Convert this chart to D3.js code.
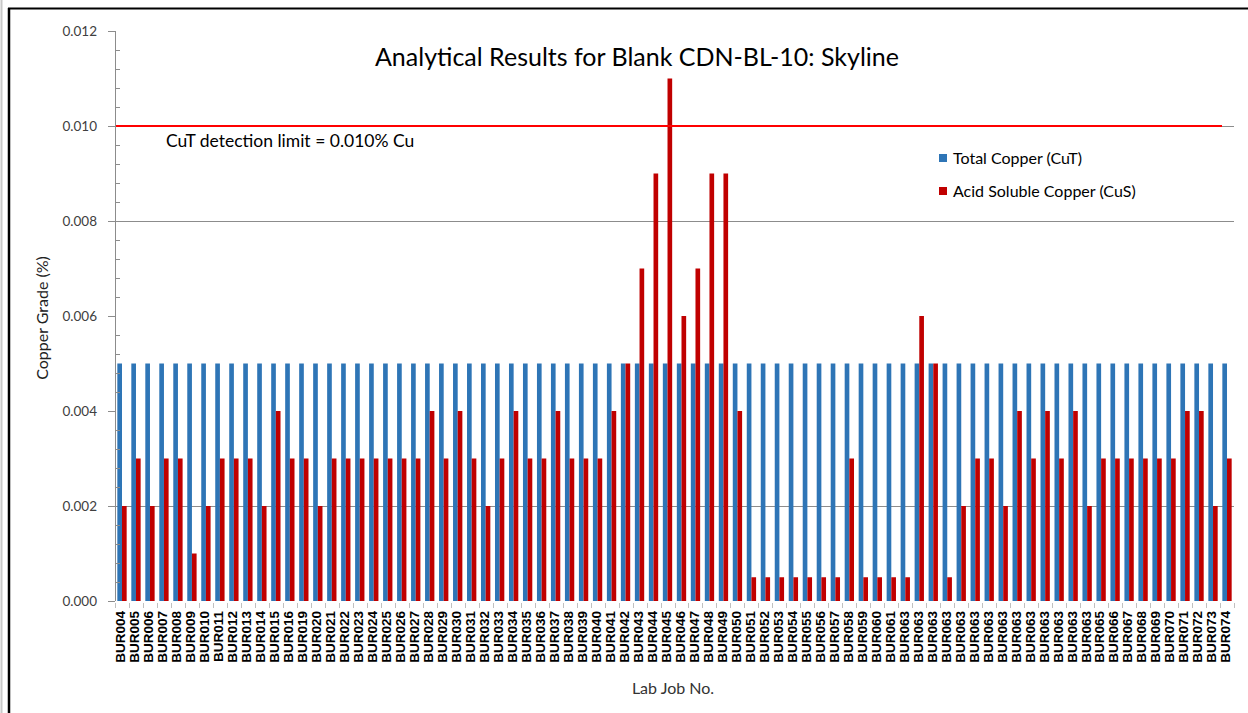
<!DOCTYPE html>
<html><head><meta charset="utf-8">
<script src="https://cdn.jsdelivr.net/npm/d3@7"></script>
<style>body{margin:0;background:#fff}svg{display:block}</style>
</head><body><svg id="c" width="1248" height="713"></svg>
<script>
const categories = ["BUR004","BUR005","BUR006","BUR007","BUR008","BUR009","BUR010","BUR011","BUR012","BUR013","BUR014","BUR015","BUR016","BUR019","BUR020","BUR021","BUR022","BUR023","BUR024","BUR025","BUR026","BUR027","BUR028","BUR029","BUR030","BUR031","BUR032","BUR033","BUR034","BUR035","BUR036","BUR037","BUR038","BUR039","BUR040","BUR041","BUR042","BUR043","BUR044","BUR045","BUR046","BUR047","BUR048","BUR049","BUR050","BUR051","BUR052","BUR053","BUR054","BUR055","BUR056","BUR057","BUR058","BUR059","BUR060","BUR061","BUR063","BUR063","BUR063","BUR063","BUR063","BUR063","BUR063","BUR063","BUR063","BUR063","BUR063","BUR063","BUR063","BUR063","BUR065","BUR066","BUR067","BUR068","BUR069","BUR070","BUR071","BUR072","BUR073","BUR074"];
const cuT = [0.005,0.005,0.005,0.005,0.005,0.005,0.005,0.005,0.005,0.005,0.005,0.005,0.005,0.005,0.005,0.005,0.005,0.005,0.005,0.005,0.005,0.005,0.005,0.005,0.005,0.005,0.005,0.005,0.005,0.005,0.005,0.005,0.005,0.005,0.005,0.005,0.005,0.005,0.005,0.005,0.005,0.005,0.005,0.005,0.005,0.005,0.005,0.005,0.005,0.005,0.005,0.005,0.005,0.005,0.005,0.005,0.005,0.005,0.005,0.005,0.005,0.005,0.005,0.005,0.005,0.005,0.005,0.005,0.005,0.005,0.005,0.005,0.005,0.005,0.005,0.005,0.005,0.005,0.005,0.005];
const cuS = [0.002,0.003,0.002,0.003,0.003,0.001,0.002,0.003,0.003,0.003,0.002,0.004,0.003,0.003,0.002,0.003,0.003,0.003,0.003,0.003,0.003,0.003,0.004,0.003,0.004,0.003,0.002,0.003,0.004,0.003,0.003,0.004,0.003,0.003,0.003,0.004,0.005,0.007,0.009,0.011,0.006,0.007,0.009,0.009,0.004,0.0005,0.0005,0.0005,0.0005,0.0005,0.0005,0.0005,0.003,0.0005,0.0005,0.0005,0.0005,0.006,0.005,0.0005,0.002,0.003,0.003,0.002,0.004,0.003,0.004,0.003,0.004,0.002,0.003,0.003,0.003,0.003,0.003,0.003,0.004,0.004,0.002,0.003];
const seriesNames = ["Total Copper (CuT)", "Acid Soluble Copper (CuS)"];
const seriesColors = ["#2E75B6", "#C00000"];
const yTickValues = [0, 0.002, 0.004, 0.006, 0.008, 0.010, 0.012];
const yMinorStep = 0.0004;
const gridValues = [0.002, 0.008, 0.010];
const detectionLimit = 0.010;
const titleText = "Analytical Results for Blank CDN-BL-10: Skyline";
const limitLabel = "CuT detection limit = 0.010% Cu";
const xTitle = "Lab Job No.";
const yTitle = "Copper Grade (%)";

(function () {
const svg = d3.select("#c");
const W = 1248, H = 713;
const pL = 115, pR = 1234, pT = 31, pB = 601;
const uiFont = "Lato, 'Open Sans', sans-serif";

// frame
svg.append("rect").attr("width", W).attr("height", H).attr("fill", "#fff");
svg.append("line").attr("x1", 1.5).attr("x2", 1.5).attr("y1", 0).attr("y2", H).attr("stroke", "#c8c8c8").attr("stroke-width", 2);
svg.append("line").attr("x1", 9).attr("x2", 9).attr("y1", 8).attr("y2", H).attr("stroke", "#000").attr("stroke-width", 2.5);
svg.append("line").attr("x1", 8).attr("x2", W).attr("y1", 8.5).attr("y2", 8.5).attr("stroke", "#000").attr("stroke-width", 2);

const idx = d3.range(categories.length);
const x = d3.scaleBand().domain(idx).range([pL, pR]).padding(0);
const xs = d3.scaleBand().domain([0, 1]).range([0, x.bandwidth()]).paddingInner(0).paddingOuter(0.5);
const y = d3.scaleLinear().domain([0, 0.012]).range([pB, pT]);

// gridlines
svg.append("g").selectAll("line").data(gridValues).join("line")
  .attr("x1", pL).attr("x2", pR)
  .attr("y1", d => Math.round(y(d)) + 0.5).attr("y2", d => Math.round(y(d)) + 0.5)
  .attr("stroke", "#8c8c8c").attr("stroke-width", 1);

// bars
const series = [cuT, cuS];
series.forEach((vals, si) => {
  svg.append("g").selectAll("rect").data(vals).join("rect")
    .attr("x", (d, i) => x(i) + xs(si))
    .attr("width", xs.bandwidth())
    .attr("y", d => y(d))
    .attr("height", d => y(0) - y(d))
    .attr("fill", seriesColors[si]);
});

// detection limit line
svg.append("line").attr("x1", pL).attr("x2", 1222)
  .attr("y1", y(detectionLimit)).attr("y2", y(detectionLimit))
  .attr("stroke", "#FF0000").attr("stroke-width", 2);

// y axis
const yAxis = svg.append("g");
yAxis.append("line").attr("x1", pL + 0.5).attr("x2", pL + 0.5).attr("y1", pT).attr("y2", pB).attr("stroke", "#8c8c8c");
const minor = d3.range(0, 0.012 + 1e-9, yMinorStep).filter(v => Math.abs(v / 0.002 - Math.round(v / 0.002)) > 1e-6);
yAxis.selectAll("line.mi").data(minor).join("line").attr("class", "mi")
  .attr("x1", pL).attr("x2", pL + 5)
  .attr("y1", d => Math.round(y(d)) + 0.5).attr("y2", d => Math.round(y(d)) + 0.5)
  .attr("stroke", "#8c8c8c");
yAxis.selectAll("line.ma").data(yTickValues).join("line").attr("class", "ma")
  .attr("x1", pL - 7).attr("x2", pL)
  .attr("y1", d => Math.round(y(d)) + 0.5).attr("y2", d => Math.round(y(d)) + 0.5)
  .attr("stroke", "#8c8c8c");
yAxis.selectAll("text").data(yTickValues).join("text")
  .attr("x", 97).attr("y", d => y(d)).attr("dy", "0.35em")
  .attr("text-anchor", "end").attr("font-family", uiFont).attr("font-size", 13.5)
  .attr("fill", "#404040").text(d => d3.format(".3f")(d));

// x axis ticks & labels
const xAxis = svg.append("g");
xAxis.selectAll("line").data(d3.range(categories.length + 1)).join("line")
  .attr("x1", i => Math.round(pL + i * x.step()) + 0.5).attr("x2", i => Math.round(pL + i * x.step()) + 0.5)
  .attr("y1", pB + 2).attr("y2", pB + 7).attr("stroke", "#c0c0c0");
xAxis.selectAll("text").data(idx).join("text")
  .attr("transform", i => `translate(${x(i) + x.bandwidth() / 2 - 1.5},611) rotate(-90)`)
  .attr("dy", "0.36em").attr("text-anchor", "end")
  .attr("font-family", "'Liberation Sans', Arial, sans-serif").attr("font-weight", "bold")
  .attr("font-size", 13.5).attr("fill", "#000")
  .text(i => categories[i]);

// titles
svg.append("text").attr("x", 637).attr("y", 66).attr("text-anchor", "middle")
  .attr("font-family", uiFont).attr("font-size", 25).attr("fill", "#000").text(titleText);
svg.append("text").attr("x", 166).attr("y", 147)
  .attr("font-family", uiFont).attr("font-size", 17.5).attr("fill", "#000").text(limitLabel);
svg.append("text").attr("x", 673).attr("y", 694).attr("text-anchor", "middle")
  .attr("font-family", uiFont).attr("font-size", 16).attr("fill", "#333").text(xTitle);
svg.append("text").attr("transform", "translate(48,318) rotate(-90)").attr("text-anchor", "middle")
  .attr("font-family", uiFont).attr("font-size", 16).attr("fill", "#222").text(yTitle);

// legend
const lg = svg.append("g").attr("transform", "translate(939,154)");
seriesNames.forEach((n, i) => {
  lg.append("rect").attr("x", 0).attr("y", i * 33).attr("width", 8).attr("height", 8).attr("fill", seriesColors[i]);
  lg.append("text").attr("x", 14).attr("y", i * 33 + 4).attr("dy", "0.35em")
    .attr("font-family", uiFont).attr("font-size", 16).attr("fill", "#000").text(n);
});
})();
</script></body></html>
